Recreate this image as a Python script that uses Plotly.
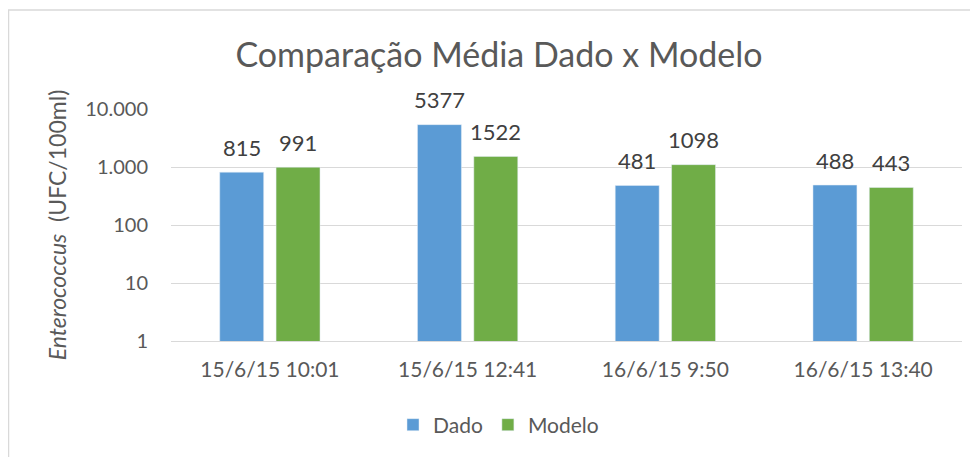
import math
import plotly.graph_objects as go

categories = ["15/6/15 10:01", "15/6/15 12:41", "16/6/15 9:50", "16/6/15 13:40"]
dado = [815, 5377, 481, 488]
modelo = [991, 1522, 1098, 443]
tick_vals = [1, 10, 100, 1000, 10000]
tick_text = ["1", "10", "100", "1.000", "10.000"]

BLUE = "#5B9BD5"
GREEN = "#70AD47"
TXT = "#595959"
FONT = "Lato, 'Open Sans', sans-serif"

# page is offset by 8px body margin
W, H = 970, 449
L, R, T, B = 163, 16, 101, 116
pw = W - L - R
ph = H - T - B

fig = go.Figure()
fig.add_trace(go.Bar(name="Dado", x=categories, y=dado, marker_color=BLUE))
fig.add_trace(go.Bar(name="Modelo", x=categories, y=modelo, marker_color=GREEN))

slot_px = pw / len(categories)
off_px = slot_px * (1 - 0.43) / 4
annotations = []
for series, sign in ((dado, -1), (modelo, 1)):
    for c, v in zip(categories, series):
        annotations.append(dict(
            x=c, y=math.log10(v), xref="x", yref="y", text=str(v),
            showarrow=False, xshift=sign * off_px, yshift=25, yanchor="middle",
            font=dict(size=22, color="#404040", family=FONT),
        ))

fig.update_layout(
    width=W, height=H,
    margin=dict(l=L, r=R, t=T, b=B),
    paper_bgcolor="white", plot_bgcolor="white",
    barmode="group", bargap=0.43, bargroupgap=0.22,
    font=dict(family=FONT, color=TXT),
    title=dict(text="Comparação Média Dado x Modelo", x=(499 - 8 - L) / pw,
               xref="paper", xanchor="center",
               y=1 - 47 / H, yanchor="middle",
               font=dict(size=34, color=TXT, family=FONT)),
    xaxis=dict(showgrid=False, showline=True, linecolor="#D9D9D9", linewidth=1,
               ticks="", ticklabelstandoff=10, tickfont=dict(size=21, color=TXT)),
    yaxis=dict(type="log", range=[0, 4], tickvals=tick_vals, ticktext=tick_text,
               showgrid=True, gridcolor="#D9D9D9", gridwidth=1, zeroline=False,
               showline=False, ticks="", ticklen=0, ticklabelstandoff=22,
               tickfont=dict(size=20, color=TXT),
               title=dict(text="<i>Enterococcus</i>  (UFC/100ml)",
                          font=dict(size=23, color=TXT), standoff=12)),
    legend=dict(orientation="h", x=(498.5 - 8 - L) / pw, xanchor="center",
                y=-(417 - (H - B)) / ph,
                yanchor="middle", font=dict(size=21, color=TXT),
                itemwidth=30, traceorder="normal"),
    annotations=annotations,
    shapes=[dict(type="rect", xref="paper", yref="paper",
                 x0=(0.5 - L) / pw, x1=(W + 20 - L) / pw,
                 y0=-(H + 20 - (H - B)) / ph, y1=(H - B - 2) / ph,
                 line=dict(color="#D9D9D9", width=1.5), fillcolor="rgba(0,0,0,0)",
                 layer="below")],
)

fig.write_html("out.html")
